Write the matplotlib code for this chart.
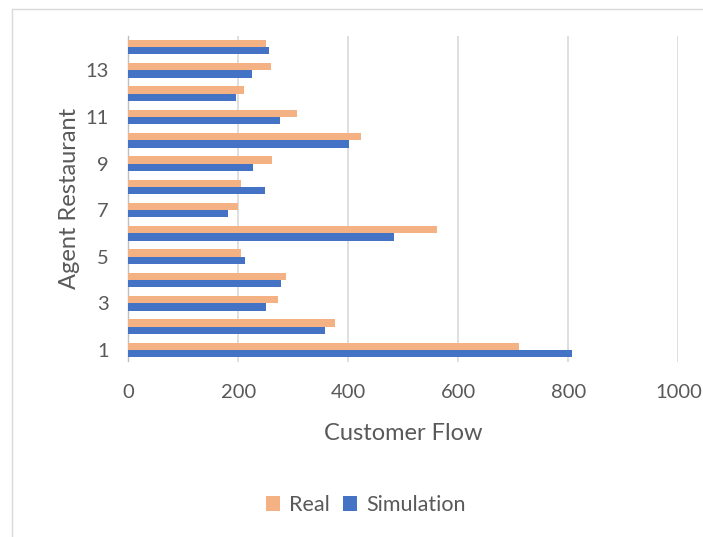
import matplotlib
matplotlib.use("Agg")
import matplotlib.pyplot as plt
from matplotlib.patches import Rectangle
import numpy as np

restaurants = list(range(1, 15))
real = [711, 376, 273, 286, 204, 562, 200, 204, 261, 423, 307, 210, 259, 250]
simulation = [807, 357, 250, 278, 212, 483, 182, 249, 226, 402, 275, 196, 224, 256]
x_ticks = [0, 200, 400, 600, 800, 1000]
y_ticks = [1, 3, 5, 7, 9, 11, 13]

REAL_C = "#F4B183"
SIM_C = "#4472C4"
TEXT_C = "#595959"
GRID_C = "#D9D9D9"

plt.rcParams["font.family"] = ["Lato", "DejaVu Sans"]

W, H = 703, 537
fig = plt.figure(figsize=(W / 100, H / 100), dpi=100)

# chart-area frame
fig.patches.append(Rectangle((12 / W, -0.05), 1.0, 1.05 - 9 / H, transform=fig.transFigure,
                             fill=False, edgecolor="#D9D9D9", linewidth=1.0))

ax = fig.add_axes([128.3 / W, 1 - 361.5 / H, 550 / W, (361.5 - 35.5) / H])

y = np.array(restaurants, dtype=float)
h = 0.31
ax.barh(y + h / 2, real, height=h, color=REAL_C, label="Real", zorder=3)
ax.barh(y - h / 2, simulation, height=h, color=SIM_C, label="Simulation", zorder=3)

ax.set_xlim(0, 1000)
ax.set_ylim(0.5, 14.5)
ax.set_xticks(x_ticks)
ax.set_yticks(y_ticks)
ax.tick_params(axis="both", length=0, labelsize=14.5, labelcolor=TEXT_C)
ax.tick_params(axis="x", pad=16)
ax.tick_params(axis="y", pad=14)
ax.xaxis.grid(True, color=GRID_C, linewidth=1.2, zorder=0)
ax.set_axisbelow(True)
for s in ["top", "right", "bottom"]:
    ax.spines[s].set_visible(False)
ax.spines["left"].set_color("#BFBFBF")
ax.spines["left"].set_linewidth(1.0)

ax.set_xlabel("Customer Flow", fontsize=17, color=TEXT_C, labelpad=16)
ax.set_ylabel("Agent Restaurant", fontsize=17, color=TEXT_C, labelpad=4)

leg = fig.legend(loc="center", bbox_to_anchor=(366 / W, 1 - 505 / H), ncol=2,
                 frameon=False, fontsize=15.5, handlelength=0.65, handleheight=0.65,
                 handletextpad=0.45, columnspacing=0.6)
for t in leg.get_texts():
    t.set_color(TEXT_C)

fig.savefig("out.png", dpi=100)
